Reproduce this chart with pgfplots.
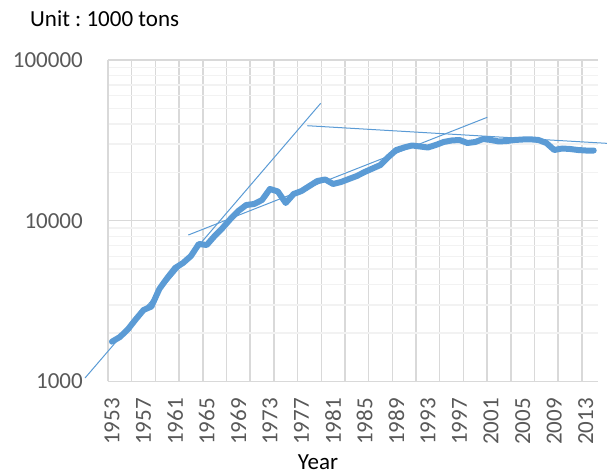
\documentclass[border=0pt]{standalone}
\usepackage{fontspec}
\setmainfont{Carlito}
\usepackage{pgfplots}
\pgfplotsset{compat=1.18}
\definecolor{xlblue}{HTML}{5B9BD5}
\definecolor{gridmaj}{HTML}{D9D9D9}
\definecolor{gridmin}{HTML}{F2F2F2}
\definecolor{ticklab}{HTML}{595959}
\newcommand\chartfont{\fontsize{23bp}{27bp}\selectfont}
\frenchspacing
\begin{document}
\begin{tikzpicture}
\useasboundingbox (0,0) rectangle (607bp,475bp);
\begin{axis}[
  at={(108bp,93.5bp)}, anchor=south west,
  scale only axis, width=489.7bp, height=321.5bp,
  xmin=1952.5, xmax=2014.5,
  ymode=log, ymin=1000, ymax=100000,
  clip=false,
  axis x line*=bottom, axis y line*=left,
  axis line style={-, draw=gridmaj, line width=1.5bp},
  xtick={1953,1957,1961,1965,1969,1973,1977,1981,1985,1989,1993,1997,2001,2005,2009,2013},
  xticklabels={1953,1957,1961,1965,1969,1973,1977,1981,1985,1989,1993,1997,2001,2005,2009,2013},
  minor xtick={1952.5,1955.5,1958.5,1961.5,1964.5,1967.5,1970.5,1973.5,1976.5,1979.5,1982.5,1985.5,1988.5,1991.5,1994.5,1997.5,2000.5,2003.5,2006.5,2009.5,2012.5},
  xminorgrids=true, xmajorgrids=false,
  minor x grid style={draw=gridmaj, line width=1.5bp},
  ytick={1000,10000,100000},
  yticklabels={1000,10000,100000},
  minor ytick={2000,3000,4000,5000,6000,7000,8000,9000,20000,30000,40000,50000,60000,70000,80000,90000},
  ymajorgrids=true, yminorgrids=true,
  major y grid style={draw=gridmaj, line width=1.5bp},
  minor y grid style={draw=gridmin, line width=1.5bp},
  major tick length=0pt, minor tick length=0pt,
  tick label style={font=\chartfont, text=ticklab, inner sep=0pt},
  xticklabel style={rotate=90, anchor=east},
  xticklabel shift=16.5bp,
  yticklabel style={anchor=east},
  yticklabel shift=25bp,
]
\addplot[xlblue, line width=6bp, line join=round, line cap=round] coordinates {
(1953,1769) (1954,1891) (1955,2106) (1956,2431) (1957,2785) (1958,2928)
(1959,3762) (1960,4405) (1961,5083) (1962,5461) (1963,6035) (1964,7167)
(1965,7065) (1966,8037) (1967,9013) (1968,10250) (1969,11500) (1970,12530)
(1971,12710) (1972,13460) (1973,15760) (1974,15210) (1975,12900) (1976,14670)
(1977,15310) (1978,16450) (1979,17670) (1980,18060) (1981,16930) (1982,17420)
(1983,18190) (1984,18980) (1985,20110) (1986,21140) (1987,22230) (1988,24920)
(1989,27550) (1990,28560) (1991,29390) (1992,28970) (1993,28560) (1994,29600)
(1995,30900) (1996,31570) (1997,31800) (1998,30460) (1999,30900) (2000,32250)
(2001,31800) (2002,31120) (2003,31340) (2004,31800) (2005,32020) (2006,32100)
(2007,31800) (2008,30460) (2009,27550) (2010,28150) (2011,27950) (2012,27550)
(2013,27350) (2014,27350)
};
\addplot[xlblue, line width=1bp] coordinates {(1949.59,1051) (1979.43,53790)};
\addplot[xlblue, line width=1bp] coordinates {(1962.67,8153) (2000.52,44010)};
\addplot[xlblue, line width=1bp] coordinates {(1977.73,39020) (2016.0,30240)};
\end{axis}
\node[anchor=base west, inner sep=0pt, font=\chartfont] at (30bp,448.5bp) {Unit : 1000 tons};
\node[anchor=base, inner sep=0pt, font=\chartfont] at (318bp,6bp) {Year};
\end{tikzpicture}
\end{document}
